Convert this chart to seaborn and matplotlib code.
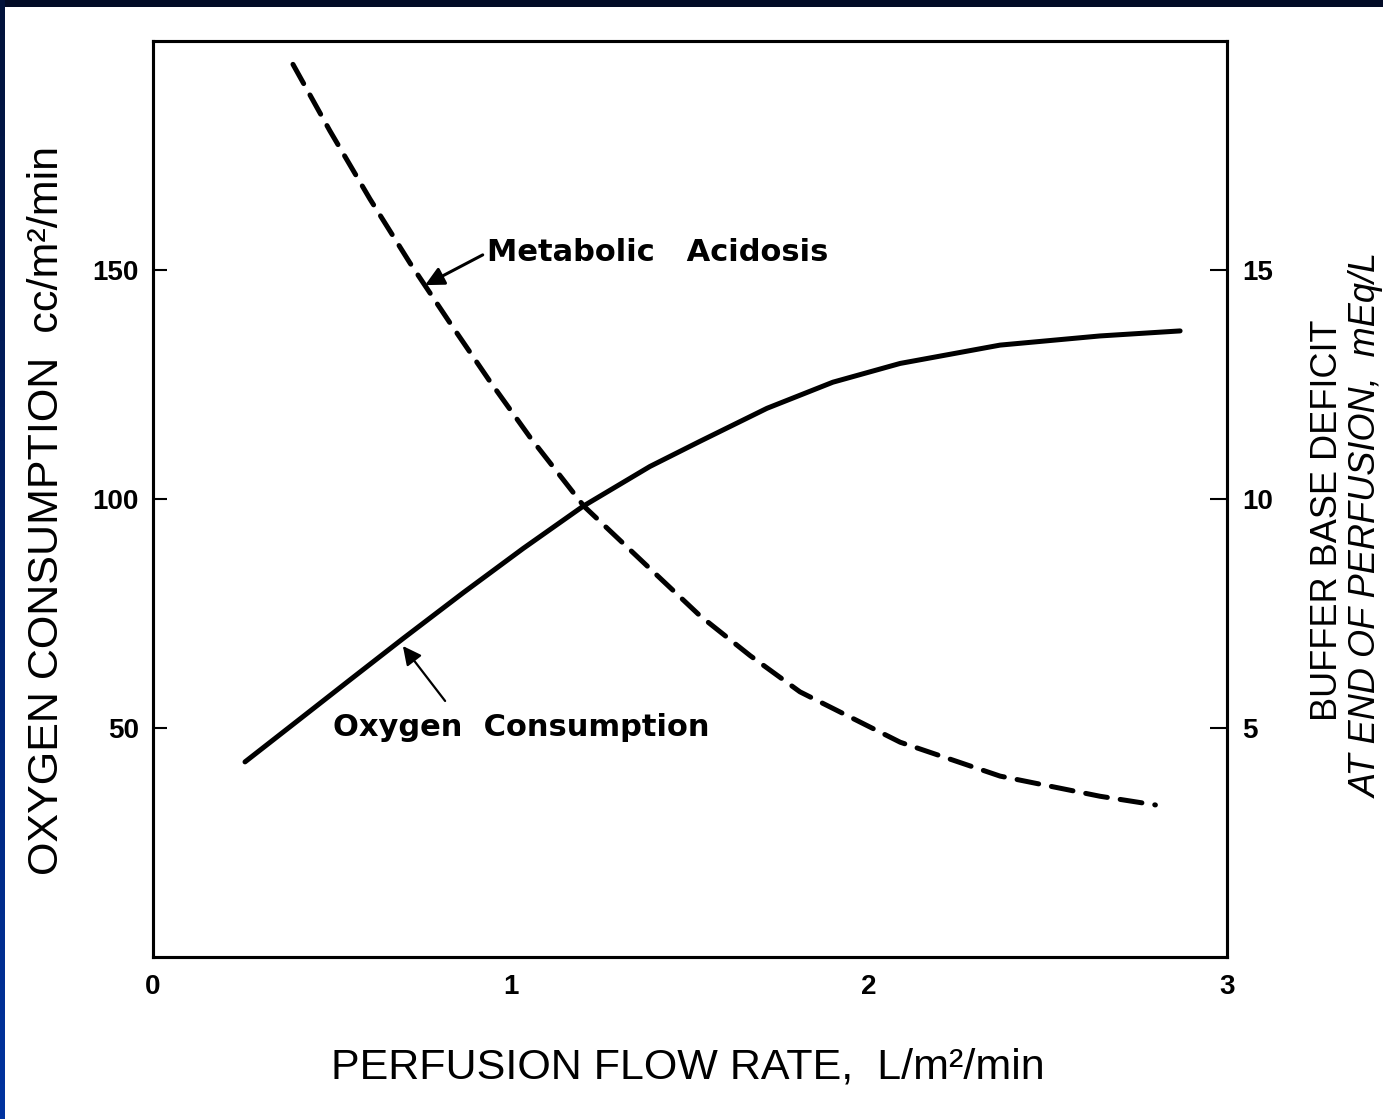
import numpy as np
import pandas as pd
import matplotlib
matplotlib.use("Agg")
import matplotlib.pyplot as plt
import seaborn as sns

# ---------------- data ----------------
flow_o2 = [0.257, 0.411, 0.550, 0.698, 0.866, 1.034, 1.201, 1.388, 1.528,
           1.715, 1.899, 2.087, 2.366, 2.645, 2.869]
oxygen = [42.6, 52.0, 60.5, 69.5, 79.5, 89.2, 98.4, 107.1, 112.6,
          119.8, 125.5, 129.6, 133.6, 135.6, 136.7]

flow_acid = [0.391, 0.494, 0.606, 0.718, 0.830, 0.941, 1.053, 1.204, 1.380,
             1.528, 1.668, 1.807, 2.087, 2.366, 2.645, 2.800]
base_deficit = [19.49, 18.04, 16.55, 15.15, 13.84, 12.57, 11.35, 9.84, 8.54,
                7.45, 6.58, 5.79, 4.69, 3.95, 3.51, 3.32]

x_ticks = [0, 1, 2, 3]
left_ticks = [50, 100, 150]
right_ticks = [5, 10, 15]

df_o2 = pd.DataFrame({"flow": flow_o2, "o2": oxygen})
df_acid = pd.DataFrame({"flow": flow_acid, "deficit": base_deficit})

# ---------------- figure ----------------
sns.set_style("white")
plt.rcParams["font.family"] = ["Liberation Sans", "DejaVu Sans"]
plt.rcParams["text.color"] = "black"
plt.rcParams["xtick.color"] = "black"
plt.rcParams["ytick.color"] = "black"

fig = plt.figure(figsize=(13.83, 11.19), dpi=100)
ax = fig.add_axes([153 / 1383, 1 - 957 / 1119, (1227 - 153) / 1383, (957 - 41) / 1119])
ax2 = ax.twinx()

sns.lineplot(data=df_o2, x="flow", y="o2", ax=ax, color="black", lw=3.6,
             sort=False, solid_capstyle="round", solid_joinstyle="round")
sns.lineplot(data=df_acid, x="flow", y="deficit", ax=ax2, color="black", lw=3.6,
             sort=False)
ax2.lines[0].set_dashes((4.4, 2.6))
ax2.lines[0].set_dash_capstyle("round")

ax.set_xlim(0, 3)
ax.set_ylim(0, 200)
ax2.set_ylim(0, 20)

ax.set_xticks(x_ticks)
ax.set_yticks(left_ticks)
ax2.set_yticks(right_ticks)

for lab in ax.get_xticklabels() + ax.get_yticklabels() + ax2.get_yticklabels():
    lab.set_fontsize(20)
    lab.set_fontweight("bold")
    lab.set_color("black")

ax.tick_params(axis="x", direction="in", length=12, width=1.5, pad=12)
ax.tick_params(axis="y", direction="in", length=10, width=1.5, pad=10)
ax2.tick_params(axis="y", direction="in", length=12, width=1.5, pad=11)

for a in (ax, ax2):
    for s in a.spines.values():
        s.set_linewidth(2.2)
        s.set_color("black")
        s.set_visible(True)
ax.set_xlabel("")
ax.set_ylabel("")
ax2.set_ylabel("")

# annotations
ax.annotate("", xy=(0.760, 146.7), xytext=(0.921, 153.3),
            arrowprops=dict(arrowstyle="-|>", color="black", lw=2.2,
                            mutation_scale=28, shrinkA=0, shrinkB=0))
ax.text(0.933, 153.9, "Metabolic   Acidosis", fontsize=22, fontweight="bold",
        ha="left", va="center", family=["DejaVu Sans"])

ax.annotate("", xy=(0.698, 67.9), xytext=(0.816, 55.9),
            arrowprops=dict(arrowstyle="-|>", color="black", lw=1.6,
                            mutation_scale=28, shrinkA=0, shrinkB=0))
ax.text(0.503, 50.2, "Oxygen  Consumption", fontsize=22, fontweight="bold",
        ha="left", va="center", family=["DejaVu Sans"])

# axis titles
fig.text(47 / 1383, 1 - 510 / 1119, "OXYGEN CONSUMPTION  cc/m²/min",
         rotation=90, ha="center", va="center", fontsize=31)
fig.text(688 / 1383, 1 - 1068 / 1119, "PERFUSION FLOW RATE,  L/m²/min",
         ha="center", va="center", fontsize=31)
fig.text(1337 / 1383, 1 - 520 / 1119, "BUFFER BASE DEFICIT",
         rotation=90, rotation_mode="anchor", ha="center", va="baseline",
         fontsize=26)
fig.text(1377 / 1383, 1 - 525 / 1119, "AT END OF PERFUSION,  mEq/L",
         rotation=90, rotation_mode="anchor", ha="center", va="baseline",
         fontsize=26, style="italic")

# dark slide frame (top band and left blue edge)
band = fig.add_axes([0, 1 - 7 / 1119, 1, 7 / 1119])
band.set_facecolor("#020b26")
band.set_xticks([])
band.set_yticks([])
for s in band.spines.values():
    s.set_visible(False)

edge = fig.add_axes([0, 0, 5 / 1383, 1])
grad = np.linspace(0, 1, 256).reshape(-1, 1)
edge.imshow(grad, aspect="auto", cmap=matplotlib.colors.LinearSegmentedColormap.from_list(
    "edge", ["#0033a0", "#02123a"]), origin="lower")
edge.set_axis_off()

fig.savefig("out.png", dpi=100, facecolor="white")
